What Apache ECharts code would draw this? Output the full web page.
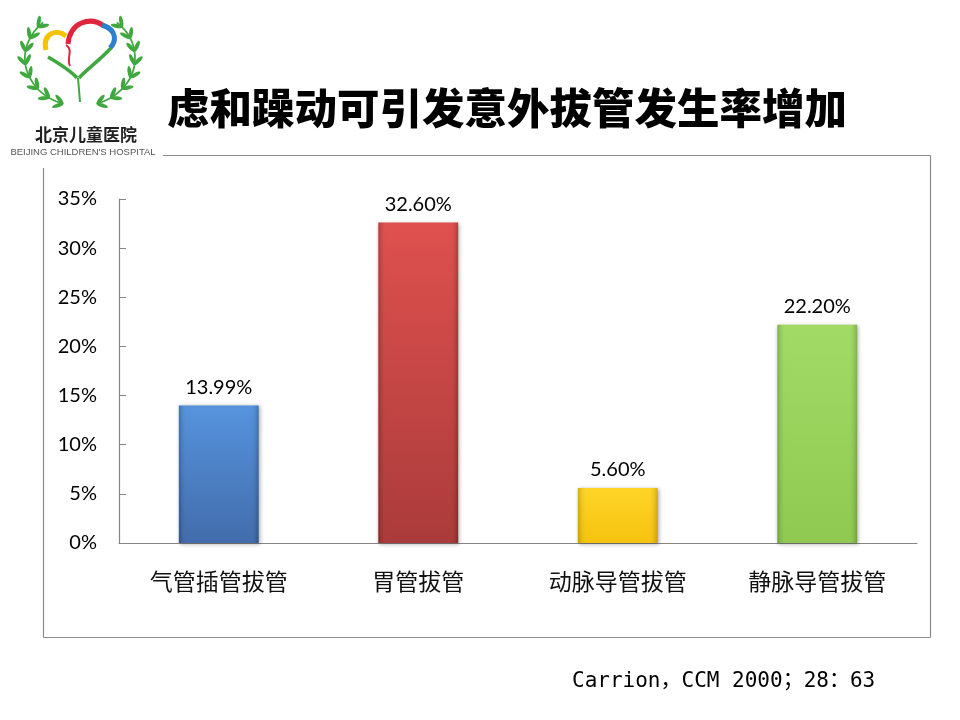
<!DOCTYPE html>
<html>
<head>
<meta charset="utf-8">
<script src="https://cdn.jsdelivr.net/npm/echarts@6/dist/echarts.min.js"></script>
<style>
  html, body { margin: 0; padding: 0; background: #fff; }
  #main { width: 960px; height: 720px; }
</style>
</head>
<body>
<div id="main"></div>
<script>
// 数据
const categories = ['气管插管拔管', '胃管拔管', '动脉导管拔管', '静脉导管拔管'];
const rates = [13.99, 32.6, 5.6, 22.2];
const yTicks = [0, 5, 10, 15, 20, 25, 30, 35];

// 每根柱子的颜色（上 -> 下）
const barColors = [
    ['#4b8ddb', '#3763a6'],
    ['#dd4644', '#a52f2e'],
    ['#ffd21a', '#f5bf00'],
    ['#9cd95c', '#88c646']
];

const chart = echarts.init(document.getElementById('main'));

// 院徽的麦穗叶子
function makeLeaves() {
    let leaves = [];
    const cx = 80, cy = 58, rx = 55, ry = 48;
    for (let side = 0; side < 2; side++) {
        for (let i = 0; i < 8; i++) {
            let deg = 108 + i * 16;
            let a = deg * Math.PI / 180;
            let x = cx + rx * Math.cos(a);
            let y = cy + ry * Math.sin(a);
            let tx = -rx * Math.sin(a), ty = ry * Math.cos(a);
            if (side === 1) { x = 2 * cx - x; tx = -tx; }
            let th = Math.atan2(ty, tx);
            for (let k = -1; k <= 1; k += 2) {
                let d = th + k * 0.6;
                leaves.push({
                    type: 'ellipse',
                    x: x + Math.cos(d) * 5.5,
                    y: y + Math.sin(d) * 5.5,
                    rotation: -d,
                    shape: { cx: 0, cy: 0, rx: 6, ry: 2 },
                    style: { fill: '#3fa83f' },
                    z: 5
                });
            }
        }
        // 枝干
        leaves.push({
            type: 'arc', z: 5,
            shape: side === 0
                ? { cx: 0, cy: 0, r: 1, startAngle: 108 * Math.PI / 180, endAngle: 228 * Math.PI / 180 }
                : { cx: 0, cy: 0, r: 1, startAngle: -48 * Math.PI / 180, endAngle: 72 * Math.PI / 180 },
            x: cx, y: cy, scaleX: rx, scaleY: ry,
            style: { stroke: '#3fa83f', lineWidth: 1.6 / 50, fill: null }
        });
    }
    return leaves;
}

const logo = makeLeaves().concat([
    { type: 'bezierCurve', shape: { x1: 46, y1: 50, cpx1: 42, cpy1: 34, x2: 66, y2: 36, cpx2: 56, cpy2: 28 },
      style: { stroke: '#f5c400', lineWidth: 5, fill: null }, z: 5 },
    { type: 'bezierCurve', shape: { x1: 68, y1: 44, cpx1: 70, cpy1: 22, x2: 104, y2: 26, cpx2: 90, cpy2: 16 },
      style: { stroke: '#e0263c', lineWidth: 5, fill: null }, z: 5 },
    { type: 'bezierCurve', shape: { x1: 102, y1: 25, cpx1: 118, cpy1: 30, x2: 110, y2: 48, cpx2: 116, cpy2: 42 },
      style: { stroke: '#2e7ed2', lineWidth: 5, fill: null }, z: 5 },
    { type: 'bezierCurve', shape: { x1: 66, y1: 45, cpx1: 74, cpy1: 50, x2: 70, y2: 66, cpx2: 66, cpy2: 58 },
      style: { stroke: '#e0263c', lineWidth: 2, fill: null }, z: 5 },
    { type: 'bezierCurve', shape: { x1: 48, y1: 57, cpx1: 60, cpy1: 64, x2: 77, y2: 78, cpx2: 70, cpy2: 70 },
      style: { stroke: '#3fa83f', lineWidth: 3.5, fill: null }, z: 5 },
    { type: 'bezierCurve', shape: { x1: 111, y1: 48, cpx1: 100, cpy1: 60, x2: 79, y2: 78, cpx2: 86, cpy2: 70 },
      style: { stroke: '#3fa83f', lineWidth: 3.5, fill: null }, z: 5 },
    { type: 'line', shape: { x1: 78, y1: 78, x2: 80, y2: 102 },
      style: { stroke: '#3fa83f', lineWidth: 2 }, z: 5 },
    { type: 'text', x: 86, y: 135, z: 5,
      style: { text: '北京儿童医院', fill: '#222', font: 'bold 17px "Noto Sans CJK SC"', align: 'center', verticalAlign: 'middle' } },
    { type: 'text', x: 83, y: 152, z: 5,
      style: { text: "BEIJING CHILDREN'S HOSPITAL", fill: '#555', font: '9.5px "Liberation Sans"', align: 'center', verticalAlign: 'middle' } }
]);

// 外框（左上角被院徽挡住）
const frameStyle = { stroke: '#8c8c8c', lineWidth: 1.2 };
const frame = [
    { type: 'line', shape: { x1: 163, y1: 155.5, x2: 930.5, y2: 155.5 }, style: frameStyle },
    { type: 'line', shape: { x1: 930.5, y1: 155.5, x2: 930.5, y2: 637.5 }, style: frameStyle },
    { type: 'line', shape: { x1: 43.5, y1: 637.5, x2: 930.5, y2: 637.5 }, style: frameStyle },
    { type: 'line', shape: { x1: 43.5, y1: 168, x2: 43.5, y2: 637.5 }, style: frameStyle }
];

const option = {
    backgroundColor: '#fff',
    animation: false,
    title: {
        text: '虑和躁动可引发意外拔管发生率增加',
        left: 162,
        top: 82,
        textStyle: { fontFamily: 'Noto Sans CJK SC', fontWeight: 900, fontSize: 42.5, color: '#000' }
    },
    grid: { left: 119, right: 43, top: 199, bottom: 177 },
    xAxis: {
        type: 'category',
        data: categories,
        axisLine: { lineStyle: { color: '#868686', width: 1.2 } },
        axisTick: { inside: true, length: 7, alignWithLabel: false, lineStyle: { color: '#868686' } },
        axisLabel: { margin: 27, fontSize: 23, color: '#111', fontFamily: 'Noto Sans CJK SC' }
    },
    yAxis: {
        type: 'value',
        min: 0,
        max: 35,
        interval: 5,
        splitLine: { show: false },
        axisLine: { show: true, lineStyle: { color: '#868686', width: 1.2 } },
        axisTick: { show: true, inside: true, length: 7, lineStyle: { color: '#868686' } },
        axisLabel: {
            margin: 22, fontSize: 20, color: '#000', fontFamily: 'Lato',
            formatter: function (v) { return yTicks.indexOf(v) >= 0 ? v + '%' : ''; }
        }
    },
    series: [{
        type: 'bar',
        barWidth: '40%',
        data: rates.map(function (v, i) {
            return {
                value: v,
                itemStyle: {
                    color: new echarts.graphic.LinearGradient(0, 0, 0, 1, [
                        { offset: 0, color: barColors[i][0] },
                        { offset: 1, color: barColors[i][1] }
                    ]),
                    shadowColor: 'rgba(0,0,0,0.35)',
                    shadowBlur: 4,
                    shadowOffsetX: 1,
                    shadowOffsetY: 1
                }
            };
        }),
        label: {
            show: true,
            position: 'top',
            distance: 8,
            fontSize: 20,
            fontFamily: 'Lato',
            color: '#000',
            formatter: function (p) { return p.value.toFixed(2) + '%'; }
        }
    }, {
        // 柱子两侧的立体边
        type: 'bar',
        barWidth: '40%',
        barGap: '-100%',
        silent: true,
        data: rates,
        itemStyle: {
            color: new echarts.graphic.LinearGradient(0, 0, 1, 0, [
                { offset: 0, color: 'rgba(0,0,0,0.18)' },
                { offset: 0.1, color: 'rgba(255,255,255,0.06)' },
                { offset: 0.9, color: 'rgba(255,255,255,0.06)' },
                { offset: 1, color: 'rgba(0,0,0,0.18)' }
            ])
        }
    }],
    graphic: frame.concat(logo).concat([{
        type: 'text',
        x: 572, y: 682,
        style: {
            text: '{a|Carrion}{p|，}{a|CCM 2000}{p|；}{a|28}{p|：}{a|63}',
            verticalAlign: 'middle',
            rich: {
                a: { fontFamily: 'DejaVu Sans Mono', fontSize: 21, color: '#000' },
                p: { fontFamily: 'Noto Sans CJK SC', fontSize: 21, color: '#000', padding: [0, 0, 8, 0] }
            }
        }
    }])
};

chart.setOption(option);
</script>
</body>
</html>
